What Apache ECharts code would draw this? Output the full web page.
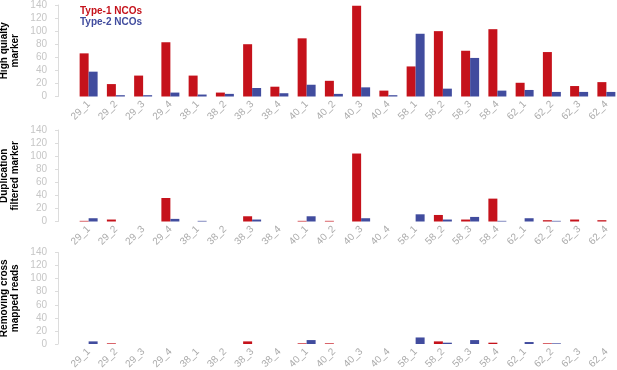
<!DOCTYPE html>
<html>
<head>
<meta charset="utf-8">
<script src="https://cdn.jsdelivr.net/npm/echarts@6/dist/echarts.min.js"></script>
<style>
  html, body { margin: 0; padding: 0; background: #fff; }
  #chart { width: 617px; height: 370px; }
</style>
</head>
<body>
<div id="chart"></div>
<script>
// categories (sample_replicate)
const categories = ['29_1', '29_2', '29_3', '29_4', '38_1', '38_2', '38_3', '38_4',
  '40_1', '40_2', '40_3', '40_4', '58_1', '58_2', '58_3', '58_4',
  '62_1', '62_2', '62_3', '62_4']

const panelNames = ['High quialty\nmarker', 'Duplication\nfiltered marker', 'Removing cross\nmapped reads']
const yTicks = [0, 20, 40, 60, 80, 100, 120, 140]

// High quality marker
const hqType1 = [66, 19, 32, 83, 32, 6, 80, 15, 89, 24, 139, 9, 46, 100, 70, 103, 21, 68, 16, 22]
const hqType2 = [38, 2, 2, 6, 3, 4, 13, 5, 18, 4, 14, 2, 96, 12, 59, 9, 10, 7, 7, 7]

// Duplication filtered marker
const dupType1 = [1, 3, 0, 36, 0, 0, 8, 0, 1, 1, 104, 0, 0, 10, 3, 35, 0, 2, 3, 2]
const dupType2 = [5, 0, 0, 4, 1, 0, 3, 0, 8, 0, 5, 0, 11, 3, 7, 1, 5, 1, 0, 0]

// Removing cross mapped reads
const crossType1 = [0, 1, 0, 0, 0, 0, 4, 0, 1, 1, 0, 0, 0, 4, 0, 2, 0, 1, 0, 0]
const crossType2 = [4, 0, 0, 0, 0, 0, 0, 0, 6, 0, 0, 0, 10, 2, 6, 0, 3, 1, 0, 0]

const RED = '#c5121b'
const BLUE = '#414c9e'
const FONT = 'Liberation Sans, Arial, sans-serif'

const panels = [
  { top: 5, t1: hqType1, t2: hqType2 },
  { top: 130, t1: dupType1, t2: dupType2 },
  { top: 252.5, t1: crossType1, t2: crossType2 }
]

const chart = echarts.init(document.getElementById('chart'), null, { renderer: 'canvas' })

const grids = panels.map(p => ({
  left: 75, top: p.top, width: 545, height: 91.5,
  outerBoundsMode: 'none'
}))

const xAxes = panels.map((p, i) => ({
  type: 'category',
  gridIndex: i,
  data: categories,
  axisLine: { show: false },
  axisTick: { show: false },
  axisLabel: {
    rotate: 45,
    margin: 6,
    fontSize: 10,
    color: '#ababab',
    fontFamily: FONT
  }
}))

const yAxes = panels.map((p, i) => ({
  type: 'value',
  gridIndex: i,
  min: yTicks[0],
  max: yTicks[yTicks.length - 1],
  interval: 20,
  offset: 17,
  name: panelNames[i],
  nameLocation: 'middle',
  nameRotate: 90,
  nameGap: 37,
  nameMoveOverlap: false,
  nameTextStyle: {
    color: '#000',
    fontWeight: 'bold',
    fontSize: 10,
    lineHeight: 11,
    fontFamily: FONT
  },
  axisLine: { show: true, lineStyle: { color: '#dcdcdc', width: 1 } },
  axisTick: { show: true, length: 3, lineStyle: { color: '#dcdcdc' } },
  splitLine: { show: false },
  axisLabel: {
    margin: 11,
    fontSize: 10,
    color: '#c6c6c6',
    fontFamily: FONT
  }
}))

const series = []
panels.forEach((p, i) => {
  series.push({
    name: 'Type-1 NCOs',
    type: 'bar',
    xAxisIndex: i,
    yAxisIndex: i,
    data: p.t1,
    barGap: '0%',
    barCategoryGap: '34%',
    itemStyle: { color: RED }
  })
  series.push({
    name: 'Type-2 NCOs',
    type: 'bar',
    xAxisIndex: i,
    yAxisIndex: i,
    data: p.t2,
    barGap: '0%',
    barCategoryGap: '34%',
    itemStyle: { color: BLUE }
  })
})

const option = {
  animation: false,
  legend: {
    orient: 'vertical',
    left: 70,
    top: 1,
    itemGap: 1,
    itemWidth: 0,
    itemHeight: 0,
    icon: 'none',
    selectedMode: false,
    data: [
      { name: 'Type-1 NCOs', textStyle: { color: RED } },
      { name: 'Type-2 NCOs', textStyle: { color: BLUE } }
    ],
    textStyle: {
      fontSize: 10,
      fontWeight: 'bold',
      fontFamily: FONT
    }
  },
  grid: grids,
  xAxis: xAxes,
  yAxis: yAxes,
  series: series
}

chart.setOption(option)
</script>
</body>
</html>
